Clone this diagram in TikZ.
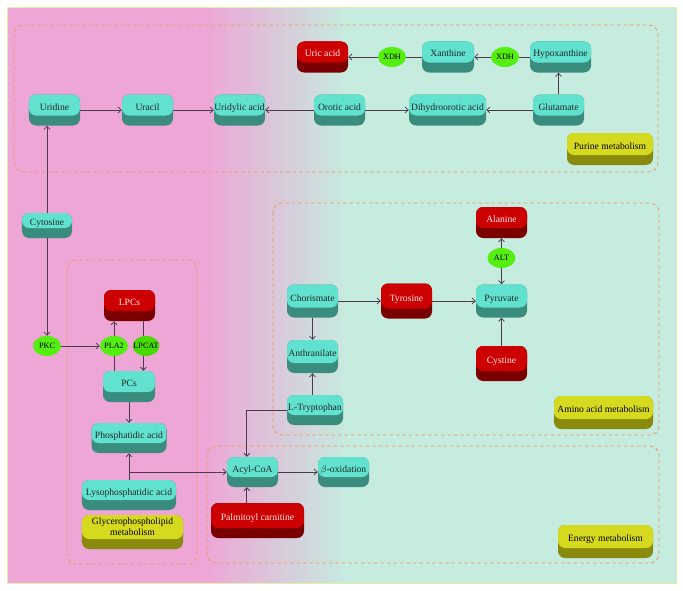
\documentclass[tikz,border=0pt]{standalone}
\usepackage{fontspec}
\setmainfont{Liberation Serif}
\usetikzlibrary{arrows.meta,shapes.geometric}
\definecolor{bgPk}{RGB}{238,166,214}
\definecolor{bgMn}{RGB}{198,235,223}
\definecolor{bgRim}{RGB}{228,238,170}
\definecolor{cyT}{RGB}{96,226,206}
\definecolor{cyD}{RGB}{58,140,126}
\definecolor{rdT}{RGB}{204,0,0}
\definecolor{rdD}{RGB}{122,0,0}
\definecolor{ylT}{RGB}{214,218,30}
\definecolor{ylD}{RGB}{138,138,14}
\definecolor{enG}{RGB}{85,238,17}
\definecolor{enGd}{RGB}{70,218,0}
\definecolor{lnk}{RGB}{74,58,74}
\definecolor{dsh}{RGB}{240,150,95}
\newcommand{\RC}{6pt}
\newcommand{\BAND}{0.30cm}

\begin{document}
\begin{tikzpicture}[x=0.03cm, y=-0.03cm,
    wd/.style={minimum width=#1*0.3mm},
    ht/.style={minimum height=#1*0.3mm},
    met/.style 2 args={rounded corners=\RC, fill=#2, inner sep=0pt,
      minimum height=0.93cm, text height=1.9mm, text depth=1.9mm,
      font=\fontsize{8.2}{9.5}\selectfont,
      path picture={\fill[#1, rounded corners=\RC]
        ([yshift=2pt]path picture bounding box.north west) rectangle
        ([yshift=\BAND]path picture bounding box.south east);}},
    cy/.style={met={cyT}{cyD}, text=black!85},
    rd/.style={met={rdT}{rdD}, text=red!8},
    yl/.style={met={ylT}{ylD}, text=black},
    enz/.style={ellipse, fill=enG, inner xsep=-3pt, inner ysep=0pt,
      minimum width=0.84cm, minimum height=0.6cm,
      font=\fontsize{7}{8}\selectfont},
    arr/.style={draw=lnk, line width=0.7pt, -{Straight Barb[length=2.6pt,width=5pt]}},
    ln/.style={draw=lnk, line width=0.7pt},
    region/.style={draw=dsh, line width=0.7pt, dash pattern=on 3pt off 2.5pt,
      rounded corners=8pt},
  ]
  \useasboundingbox (0,0) rectangle (683,590);

  %% ================= background panel =================
  \fill[bgPk] (7,7) rectangle (205,583);
  \fill[bgMn] (345,7) rectangle (676,583);
  \foreach \i in {0,...,47} {
    \pgfmathtruncatemacro{\p}{\i*100/47}
    \fill[bgMn!\p!bgPk] ({204+\i*3},7) rectangle ({207.4+\i*3},583);
  }
  \draw[bgRim, line width=0.6pt] (7,7) rectangle (676,583);

  %% dashed regions
  \draw[region] (14,25) rectangle (658,172);
  \draw[region] (67,260) rectangle (197,564);
  \draw[region] (273,203) rectangle (659,435);
  \draw[region] (207,446) rectangle (659,563);

  %% ================= purine metabolism =================
  \node[cy, wd=51] (uridine)  at (54.5,110) {Uridine};
  \node[cy, wd=51] (uracil)   at (147.5,110) {Uracil};
  \node[cy, wd=51] (uridylic) at (239.5,110) {Uridylic acid};
  \node[cy, wd=51] (orotic)   at (339.5,110) {Orotic acid};
  \node[cy, wd=77] (dihydro)  at (447.5,110) {Dihydroorotic acid};
  \node[cy, wd=51] (glutamate) at (558.5,110) {Glutamate};
  \node[cy, wd=61] (hypox)    at (560.5,57) {Hypoxanthine};
  \node[cy, wd=52] (xanthine) at (448,57) {Xanthine};
  \node[rd, wd=51] (uric)     at (322.5,57) {Uric acid};
  \node[enz] (xdha) at (392,57) {XDH};
  \node[enz] (xdhb) at (505,57) {XDH};
  \node[yl, wd=86, ht=32] (purine) at (610,149) {Purine metabolism};

  \draw[arr] (uridine) -- (uracil);
  \draw[arr] (uracil) -- (uridylic);
  \draw[arr] (orotic) -- (uridylic);
  \draw[arr] (orotic) -- (dihydro);
  \draw[arr] (glutamate) -- (dihydro);
  \draw[arr] (glutamate) -- (glutamate |- hypox.south);
  \draw[ln] (hypox) -- (xdhb);
  \draw[arr] (xdhb) -- (xanthine);
  \draw[ln] (xanthine) -- (xdha);
  \draw[arr] (xdha) -- (uric);

  %% ================= glycerophospholipid metabolism =================
  \node[cy, wd=50, ht=25] (cytosine) at (47,225.5) {Cytosine};
  \node[enz] (pkc)   at (47,346) {PKC};
  \node[enz] (pla2)  at (114,346) {PLA2};
  \node[enz, fill=enGd, minimum width=0.8cm] (lpcat) at (146,346) {LPCAT};
  \node[rd, wd=51] (lpcs) at (129.5,305.5) {LPCs};
  \node[cy, wd=52] (pcs)  at (129,386.5) {PCs};
  \node[cy, wd=75, ht=30] (phos) at (129,438) {Phosphatidic acid};
  \node[cy, wd=94, ht=30] (lyso) at (129,495) {Lysophosphatidic acid};
  \node[yl, wd=101, ht=34, align=center, text height={}, text depth=3.3mm]
    (glycero) at (132.5,532) {Glycerophospholipid\\metabolism};

  \draw[arr] (cytosine) -- (cytosine |- uridine.south);
  \draw[arr] (cytosine) -- (pkc);
  \draw[arr] (pkc) -- (pla2);
  \draw[ln] (pla2 |- pcs.north) -- (pla2);
  \draw[arr] (pla2) -- (pla2 |- lpcs.south);
  \draw[ln] ([xshift=-0.08cm]lpcat.center |- lpcs.south) -- ([xshift=-0.08cm]lpcat.north);
  \draw[arr] ([xshift=-0.08cm]lpcat.south) -- ([xshift=-0.08cm]lpcat.center |- pcs.north);
  \draw[arr] (pcs) -- (phos);
  \draw[arr] (lyso) -- (phos);

  %% ================= amino acid metabolism =================
  \node[rd, wd=51] (alanine) at (501.5,222.5) {Alanine};
  \node[enz] (alt) at (501.5,258) {ALT};
  \node[cy, wd=51, ht=33] (pyruvate) at (501.5,301) {Pyruvate};
  \node[cy, wd=51, ht=33] (chor) at (312.5,301) {Chorismate};
  \node[rd, wd=51, ht=35] (tyr)  at (406.5,301) {Tyrosine};
  \node[cy, wd=51, ht=33] (anth) at (312.5,356.5) {Anthranilate};
  \node[cy, wd=56, ht=30] (trp)  at (315,410) {L-Tryptophan};
  \node[rd, wd=51, ht=35] (cystine) at (501.5,363.5) {Cystine};
  \node[yl, wd=99, ht=33] (amino) at (603.5,412.5) {Amino acid metabolism};

  \draw[arr] (chor) -- (tyr);
  \draw[arr] (tyr) -- (pyruvate);
  \draw[arr] (chor) -- (anth);
  \draw[arr] (anth |- trp.north) -- (anth);
  \draw[arr] (alt) -- (alanine);
  \draw[arr] (alt) -- (pyruvate);
  \draw[arr] (cystine) -- (pyruvate);

  %% ================= energy metabolism =================
  \node[cy, wd=51, ht=30] (acyl) at (252.5,472) {Acyl-CoA};
  \node[cy, wd=51, ht=30] (beta) at (343.5,472) {$\beta$-oxidation};
  \node[rd, wd=93, ht=35] (palm) at (257.5,520.5) {Palmitoyl carnitine};
  \node[yl, wd=95, ht=33] (energy) at (605.5,541.5) {Energy metabolism};
  \coordinate (acin) at ([xshift=-0.17cm]acyl.center);

  \draw[arr] (lyso.north |- acyl) -- (acyl);
  \draw[arr] (trp.west) -| (acin |- acyl.north);
  \draw[arr] (acin |- palm.north) -- (acin |- acyl.south);
  \draw[arr] (acyl) -- (beta);

\end{tikzpicture}
\end{document}
